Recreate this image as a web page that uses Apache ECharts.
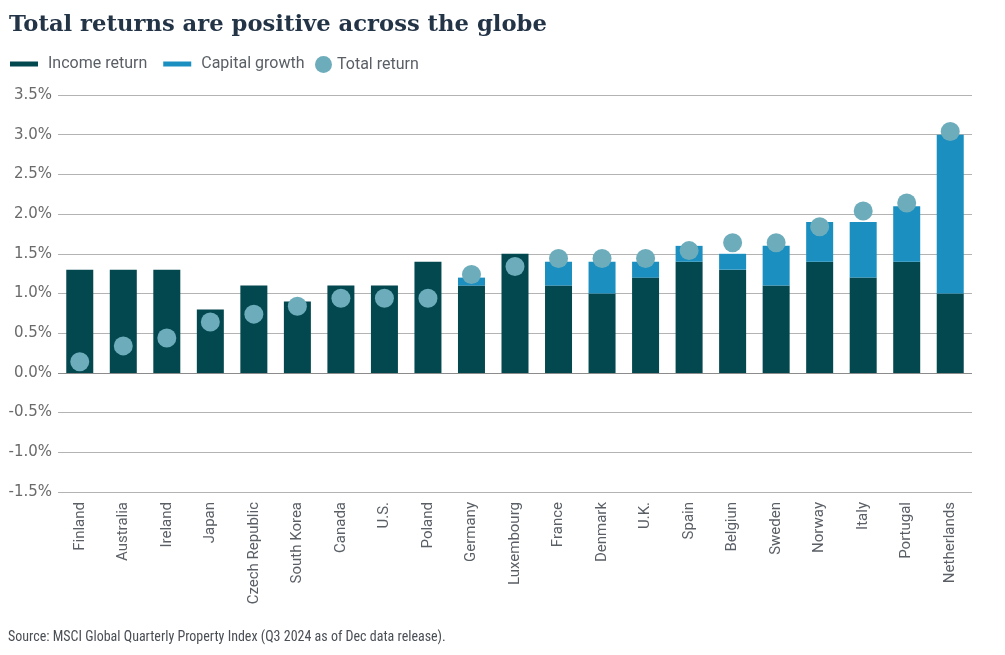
<!DOCTYPE html>
<html>
<head>
<meta charset="utf-8">
<script src="https://cdn.jsdelivr.net/npm/echarts@6/dist/echarts.min.js"></script>
<style>
html,body{margin:0;padding:0;background:#fff;}
#chart{width:1005px;height:655px;}
</style>
</head>
<body>
<div id="chart"></div>
<script>
const countries = ['Finland','Australia','Ireland','Japan','Czech Republic','South Korea','Canada','U.S.','Poland','Germany','Luxembourg','France','Denmark','U.K.','Spain','Belgiun','Sweden','Norway','Italy','Portugal','Netherlands'];
const incomeReturn = [1.3,1.3,1.3,0.8,1.1,0.9,1.1,1.1,1.4,1.1,1.5,1.1,1.0,1.2,1.4,1.3,1.1,1.4,1.2,1.4,1.0];
const capitalGrowth = [null,null,null,null,null,null,null,null,null,0.1,null,0.3,0.4,0.2,0.2,0.2,0.5,0.5,0.7,0.7,2.0];
const totalReturn = [0.14,0.34,0.44,0.64,0.74,0.84,0.94,0.94,0.94,1.24,1.34,1.44,1.44,1.44,1.54,1.64,1.64,1.84,2.04,2.14,3.04];
const yTicks = {min:-1.5, max:3.5, interval:0.5};

const chart = echarts.init(document.getElementById('chart'), null, {renderer:'canvas'});
const gridColors = ['#b3b3b3','#b3b3b3','#b3b3b3','#8c8c8c','#b3b3b3','#b3b3b3','#b3b3b3','#b3b3b3','#b3b3b3','#b3b3b3','#b3b3b3'];
chart.setOption({
  animation:false,
  backgroundColor:'#ffffff',
  title:{
    text:'Total returns are positive across the globe',
    left:9, top:14,
    padding:0,
    textStyle:{fontFamily:'DejaVu Serif', fontWeight:'bold', fontSize:22.7, color:'#233447'}
  },
  legend:[{
    data:['Income return','Capital growth'],
    left:10, top:56, padding:0,
    itemWidth:28, itemHeight:5, itemGap:16,
    icon:'rect',
    textStyle:{fontFamily:'Roboto', fontSize:16, color:'#5a5f66', padding:[0,0,0,5]}
  },{
    data:['Total return'],
    left:315, top:56, padding:0,
    itemWidth:17, itemHeight:17,
    icon:'circle',
    textStyle:{fontFamily:'Roboto', fontSize:16, color:'#5a5f66'}
  }],
  grid:{left:58, right:33, top:95, bottom:163, containLabel:false},
  xAxis:{
    type:'category',
    data:countries,
    axisLine:{show:false, onZero:false},
    axisTick:{show:false},
    axisLabel:{rotate:90, interval:0, margin:10, fontFamily:'Roboto', fontSize:15, color:'#5a5f66'}
  },
  yAxis:{
    type:'value',
    min:yTicks.min, max:yTicks.max, interval:yTicks.interval,
    axisLine:{show:false},
    axisTick:{show:false},
    splitLine:{show:true, lineStyle:{color:gridColors, width:1}},
    axisLabel:{margin:6, fontFamily:'DejaVu Sans', fontSize:15, color:'#6a6a6a',
      formatter:function(v){return v.toFixed(1)+'%';}}
  },
  series:[{
    name:'Income return', type:'bar', stack:'r', data:incomeReturn,
    barWidth:27, itemStyle:{color:'#03474f'}
  },{
    name:'Capital growth', type:'bar', stack:'r', data:capitalGrowth,
    barWidth:27, itemStyle:{color:'#1a8fc0'}
  },{
    name:'Total return', type:'scatter', data:totalReturn,
    symbolSize:19, itemStyle:{color:'#6dadbb', opacity:1}, z:5
  }],
  graphic:[{
    type:'text', left:8, top:630,
    style:{text:'Source: MSCI Global Quarterly Property Index (Q3 2024 as of Dec data release).',
      font:'14px "Liberation Sans Narrow", "Roboto Condensed", Roboto', fill:'#4a4f55'}
  }]
});
</script>
</body>
</html>
